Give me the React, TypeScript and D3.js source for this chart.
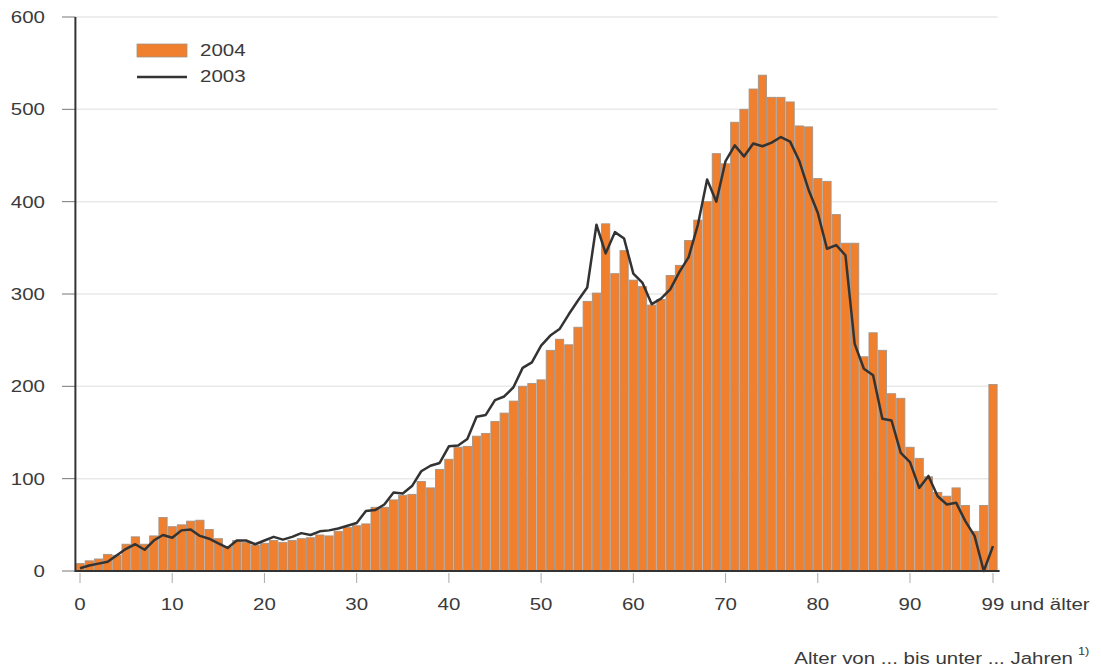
import React from "react";
import * as d3 from "d3";

const ages: number[] = Array.from({ length: 100 }, (_, i) => i);

const values2004: number[] = [
  8, 11, 13, 18, 17, 29, 37, 29, 38, 58,
  48, 50, 54, 55, 45, 35, 26, 33, 31, 28,
  30, 33, 31, 33, 35, 36, 39, 38, 43, 47,
  49, 51, 69, 69, 77, 82, 83, 97, 90, 110,
  121, 134, 135, 146, 149, 162, 171, 184, 200, 203,
  207, 239, 251, 245, 264, 292, 301, 376, 322, 347,
  315, 308, 288, 294, 320, 331, 358, 380, 400, 452,
  441, 486, 500, 522, 537, 513, 513, 508, 482, 481,
  425, 422, 386, 355, 355, 232, 258, 239, 192, 187,
  134, 122, 102, 85, 81, 90, 71, 43, 71, 202,
];

const values2003: number[] = [
  3, 6, 8, 10, 17, 24, 29, 23, 33, 39,
  36, 44, 45, 38, 35, 30, 25, 33, 33, 29,
  33, 37, 34, 37, 41, 39, 43, 44, 46, 49,
  52, 65, 66, 72, 85, 84, 92, 108, 114, 117,
  135, 136, 143, 167, 169, 185, 189, 199, 220, 226,
  244, 255, 262, 278, 293, 307, 375, 344, 367, 360,
  322, 312, 289, 295, 305, 324, 340, 375, 424, 400,
  444, 461, 449, 463, 460, 464, 470, 465, 444, 413,
  388, 349, 353, 342, 246, 219, 212, 165, 163, 128,
  118, 90, 103, 81, 72, 74, 54, 38, 0, 27,
];

const yTicks: number[] = [0, 100, 200, 300, 400, 500, 600];
const xTicks: number[] = [0, 10, 20, 30, 40, 50, 60, 70, 80, 90, 99];
const xTickLabels: string[] = ["0", "10", "20", "30", "40", "50", "60", "70", "80", "90", "99 und älter"];
const seriesNames: string[] = ["2004", "2003"];
const axisTitle = "Alter von ... bis unter ... Jahren";
const footnote = "1)";

const ORANGE = "#f07f2e";
const DARK = "#333333";
const FONT = "'Liberation Sans', Arial, sans-serif";
const SX = 1.28;

export default function App() {
  const W = 1101;
  const H = 670;
  const left = 75.4;
  const right = 997.6;
  const top = 17;
  const bottom = 571;

  const x = d3.scaleBand<number>().domain(ages).range([left, right]).paddingInner(0);
  const y = d3.scaleLinear().domain([0, 600]).range([bottom, top]);
  const step = x.step();
  const cx = (a: number) => (x(a) as number) + step / 2;

  const line = d3
    .line<number>()
    .x((_, i) => cx(ages[i]))
    .y((d) => y(d))
    .curve(d3.curveLinear);

  const txt = (
    key: string,
    tx: number,
    ty: number,
    s: string,
    anchor: "start" | "middle" | "end",
    size = 16,
    fill = "#3a3a3a"
  ) => (
    <text
      key={key}
      transform={`translate(${tx},${ty}) scale(${SX},1)`}
      textAnchor={anchor}
      fontFamily={FONT}
      fontSize={size}
      fill={fill}
    >
      {s}
    </text>
  );

  const nineW = 16 * 0.556 * 2 * SX;

  return (
    <svg
      width={W}
      height={H}
      style={{ position: "absolute", left: 0, top: 0, background: "#fff" }}
    >
      {/* gridlines */}
      {yTicks.map((t) => (
        <line key={"g" + t} x1={left} x2={right} y1={y(t)} y2={y(t)} stroke="#e9e9e9" strokeWidth={1.5} />
      ))}
      {/* y ticks */}
      {yTicks.map((t) => (
        <line key={"yt" + t} x1={62} x2={left} y1={y(t)} y2={y(t)} stroke="#777" strokeWidth={1} />
      ))}
      {yTicks.map((t) => txt("yl" + t, 45, y(t) + 6, String(t), "end"))}

      {/* bars */}
      {ages.map((a, i) => (
        <rect
          key={"b" + a}
          x={(x(a) as number) + 0.5}
          y={y(values2004[i])}
          width={step - 1}
          height={bottom - y(values2004[i])}
          fill={ORANGE}
          stroke="#a39488"
          strokeWidth={0.9}
        />
      ))}

      {/* 2003 line */}
      <path d={line(values2003) || ""} fill="none" stroke={DARK} strokeWidth={2.5} strokeLinejoin="round" />

      {/* axes */}
      <line x1={left} x2={left} y1={top} y2={bottom + 1} stroke={DARK} strokeWidth={2} />
      <line x1={left} x2={right + 2} y1={bottom} y2={bottom} stroke={DARK} strokeWidth={2} />

      {/* x ticks */}
      {xTicks.map((t) => (
        <line key={"xt" + t} x1={cx(t)} x2={cx(t)} y1={bottom + 2} y2={bottom + 12} stroke="#aaa" strokeWidth={1} />
      ))}
      {xTicks.map((t, i) =>
        i === xTicks.length - 1
          ? txt("xl" + t, cx(t) - nineW / 2, 610, xTickLabels[i], "start")
          : txt("xl" + t, cx(t), 610, xTickLabels[i], "middle")
      )}

      {/* axis title */}
      {txt("title", 1073, 664, axisTitle, "end")}
      {txt("fn", 1078, 655, footnote, "start", 10)}

      {/* legend */}
      <rect x={137} y={44} width={50} height={13} fill={ORANGE} stroke="#a39488" strokeWidth={0.8} />
      {txt("lg1", 200, 56, seriesNames[0], "start")}
      <line x1={137} x2={187} y1={77} y2={77} stroke={DARK} strokeWidth={2.5} />
      {txt("lg2", 200, 82, seriesNames[1], "start")}
    </svg>
  );
}
